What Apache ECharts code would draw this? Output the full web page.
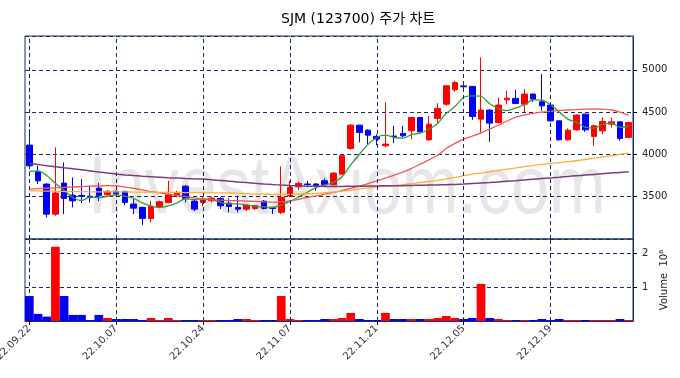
<!DOCTYPE html>
<html>
<head>
<meta charset="utf-8">
<script src="https://cdn.jsdelivr.net/npm/echarts@6/dist/echarts.min.js"></script>
<style>
  html, body { margin: 0; padding: 0; background: #fff; }
  #chart { width: 680px; height: 378px; }
</style>
</head>
<body>
<div id="chart"></div>
<script>
const dates = [
  "22.09.22", "22.09.23", "22.09.26", "22.09.27", "22.09.28", "22.09.29", "22.09.30", "22.10.04", "22.10.05", "22.10.06",
  "22.10.07", "22.10.11", "22.10.12", "22.10.13", "22.10.14", "22.10.17", "22.10.18", "22.10.19", "22.10.20", "22.10.21",
  "22.10.24", "22.10.25", "22.10.26", "22.10.27", "22.10.28", "22.10.31", "22.11.01", "22.11.02", "22.11.03", "22.11.04",
  "22.11.07", "22.11.08", "22.11.09", "22.11.10", "22.11.11", "22.11.14", "22.11.15", "22.11.16", "22.11.17", "22.11.18",
  "22.11.21", "22.11.22", "22.11.23", "22.11.24", "22.11.25", "22.11.28", "22.11.29", "22.11.30", "22.12.01", "22.12.02",
  "22.12.05", "22.12.06", "22.12.07", "22.12.08", "22.12.09", "22.12.12", "22.12.13", "22.12.14", "22.12.15", "22.12.16",
  "22.12.19", "22.12.20", "22.12.21", "22.12.22", "22.12.23", "22.12.26", "22.12.27", "22.12.28", "22.12.29", "22.12.30",
];

const opens = [
  4110, 3794, 3649, 3294, 3661, 3519, 3515, 3505, 3601, 3522,
  3563, 3563, 3413, 3374, 3243, 3385, 3433, 3511, 3625, 3448,
  3433, 3452, 3480, 3424, 3374, 3353, 3360, 3448, 3374, 3315,
  3511, 3617, 3650, 3650, 3688, 3641, 3767, 4071, 4346, 4287,
  4213, 4102, 4218, 4248, 4279, 4437, 4173, 4425, 4594, 4764,
  4810, 4804, 4417, 4524, 4378, 4645, 4662, 4594, 4713, 4622,
  4583, 4397, 4173, 4291, 4476, 4213, 4279, 4358, 4385, 4201,
];
const closes = [
  3865, 3688, 3294, 3543, 3480, 3452, 3505, 3490, 3511, 3563,
  3535, 3433, 3365, 3243, 3385, 3440, 3522, 3551, 3480, 3353,
  3460, 3483, 3393, 3385, 3353, 3400, 3395, 3362, 3362, 3492,
  3610, 3657, 3645, 3630, 3641, 3779, 3984, 4346, 4260, 4228,
  4181, 4122, 4210, 4220, 4437, 4267, 4358, 4544, 4811, 4851,
  4800, 4449, 4524, 4370, 4583, 4665, 4603, 4713, 4654, 4574,
  4397, 4173, 4287, 4465, 4291, 4338, 4390, 4385, 4189, 4378,
];
const lows = [
  3826, 3649, 3255, 3274, 3294, 3374, 3424, 3432, 3448, 3510,
  3525, 3400, 3294, 3164, 3196, 3365, 3420, 3495, 3433, 3330,
  3385, 3430, 3353, 3315, 3315, 3330, 3340, 3350, 3294, 3294,
  3492, 3582, 3610, 3570, 3630, 3630, 3760, 4054, 4142, 4120,
  4110, 4083, 4134, 4201, 4180, 4260, 4161, 4358, 4575, 4740,
  4752, 4409, 4260, 4149, 4370, 4594, 4594, 4496, 4622, 4515,
  4385, 4161, 4161, 4279, 4267, 4102, 4240, 4319, 4161, 4193,
];
const highs = [
  4299, 3865, 3660, 4083, 3905, 3728, 3708, 3629, 3664, 3580,
  3575, 3570, 3472, 3380, 3452, 3452, 3688, 3570, 3640, 3470,
  3495, 3500, 3495, 3480, 3511, 3410, 3405, 3460, 3374, 3858,
  3688, 3680, 3688, 3660, 3716, 3790, 3996, 4358, 4350, 4299,
  4240, 4615, 4338, 4338, 4440, 4440, 4456, 4606, 4820, 4870,
  4850, 4810, 5147, 4535, 4674, 4752, 4764, 4772, 4720, 4950,
  4594, 4400, 4307, 4476, 4480, 4350, 4437, 4437, 4390, 4385,
];
const volumes = [
  740000, 210000, 130000, 2200000, 740000, 180000, 180000, 30000, 180000, 90000,
  60000, 60000, 60000, 30000, 90000, 30000, 90000, 30000, 30000, 30000,
  30000, 30000, 30000, 30000, 60000, 60000, 30000, 30000, 30000, 740000,
  60000, 30000, 30000, 30000, 60000, 60000, 90000, 240000, 60000, 30000,
  30000, 240000, 60000, 60000, 60000, 60000, 60000, 90000, 150000, 90000,
  60000, 90000, 1100000, 90000, 60000, 30000, 30000, 30000, 30000, 60000,
  30000, 60000, 30000, 30000, 30000, 30000, 30000, 30000, 60000, 30000,
];

// moving averages
const ma5 = [
  3799, 3806, 3750, 3660, 3574, 3491, 3455, 3494, 3488, 3504,
  3521, 3506, 3481, 3428, 3392, 3373, 3391, 3428, 3476, 3469,
  3473, 3465, 3434, 3415, 3415, 3403, 3385, 3379, 3374, 3402,
  3444, 3497, 3553, 3607, 3637, 3670, 3736, 3876, 4002, 4119,
  4200, 4227, 4200, 4192, 4234, 4251, 4298, 4365, 4483, 4566,
  4673, 4691, 4687, 4599, 4545, 4518, 4549, 4587, 4644, 4642,
  4588, 4502, 4417, 4379, 4323, 4311, 4354, 4374, 4319, 4336,
];
const ma20 = [
  3590, 3595, 3600, 3605, 3610, 3615, 3620, 3625, 3628, 3630,
  3628, 3615, 3600, 3580, 3560, 3545, 3530, 3515, 3500, 3485,
  3472, 3465, 3460, 3455, 3452, 3448, 3445, 3440, 3437, 3440,
  3450, 3470, 3490, 3510, 3530, 3550, 3575, 3600, 3625, 3655,
  3688, 3720, 3755, 3790, 3835, 3885, 3935, 3990, 4070, 4130,
  4180, 4215, 4255, 4300, 4345, 4395, 4440, 4465, 4485, 4500,
  4510, 4520, 4525, 4530, 4535, 4537, 4535, 4525, 4500, 4465,
];
const ma60 = [
  3570, 3568, 3566, 3564, 3562, 3560, 3560, 3558, 3558, 3557,
  3557, 3556, 3555, 3554, 3553, 3552, 3551, 3550, 3549, 3548,
  3547, 3546, 3545, 3544, 3540, 3536, 3532, 3530, 3528, 3527,
  3527, 3530, 3535, 3540, 3547, 3555, 3565, 3578, 3592, 3605,
  3615, 3622, 3630, 3642, 3655, 3668, 3680, 3693, 3710, 3728,
  3748, 3767, 3780, 3795, 3810, 3826, 3840, 3855, 3868, 3882,
  3892, 3903, 3914, 3925, 3940, 3955, 3970, 3984, 4000, 4016,
];
const ma120 = [
  3894, 3880, 3867, 3855, 3842, 3830, 3818, 3805, 3792, 3780,
  3768, 3758, 3750, 3743, 3737, 3731, 3725, 3720, 3715, 3711,
  3708, 3700, 3692, 3684, 3675, 3667, 3658, 3650, 3643, 3637,
  3632, 3628, 3625, 3623, 3622, 3622, 3622, 3623, 3624, 3626,
  3628, 3629, 3630, 3631, 3633, 3635, 3637, 3639, 3642, 3645,
  3650, 3656, 3662, 3668, 3675, 3683, 3690, 3698, 3706, 3714,
  3722, 3730, 3740, 3748, 3756, 3764, 3772, 3780, 3787, 3794,
];

const priceTicks = [3500, 4000, 4500, 5000];
const volumeTicks = [1000000, 2000000];

const UP = "#ff0000";
const DOWN = "#0000ff";
const NAVY = "#1a2b6d";
const FONT = "DejaVu Sans";

const candles = opens.map((o, i) => [o, closes[i], lows[i], highs[i]]);
const volumeBars = volumes.map((v, i) => ({
  value: v,
  itemStyle: { color: closes[i] >= opens[i] ? UP : DOWN },
}));

// vertical dashed lines through every 10th session
const dateLines = dates
  .filter((d, i) => i % 10 === 0)
  .map((d) => ({ xAxis: d }));

function vLines() {
  return {
    silent: true,
    symbol: "none",
    label: { show: false },
    lineStyle: { color: NAVY, type: [4, 3], width: 1 },
    data: dateLines,
  };
}

function maLine(name, data, color, width) {
  return {
    name: name,
    type: "line",
    xAxisIndex: 0,
    yAxisIndex: 0,
    data: data,
    smooth: 0.3,
    symbol: "none",
    lineStyle: { color: color, width: width },
    z: 3,
  };
}

const myChart = echarts.init(document.getElementById("chart"), null, {
  renderer: "canvas",
});

const option = {
  backgroundColor: "#fff",
  animation: false,
  title: {
    text: "SJM (123700) 주가 차트",
    left: 276,
    top: 7,
    textStyle: {
      fontFamily: "DejaVu Sans, Noto Sans CJK KR",
      fontSize: 14,
      fontWeight: "normal",
      color: "#000",
    },
  },
  graphic: [
    {
      type: "text",
      left: 88,
      top: 150,
      z: 0,
      scaleY: 1.2,
      style: {
        text: "InvestAxiom.com",
        font: '68px "Liberation Sans"',
        fill: "#e6e6e6",
      },
    },
  ],
  grid: [
    {
      left: 25, right: 47, top: 36, height: 203,
      outerBoundsMode: "none",
      show: true, borderColor: NAVY, borderWidth: 1,
    },
    {
      left: 25, right: 47, top: 239, height: 82,
      outerBoundsMode: "none",
      show: true, borderColor: NAVY, borderWidth: 1,
    },
  ],
  xAxis: [
    {
      type: "category",
      gridIndex: 0,
      data: dates,
      boundaryGap: true,
      axisLine: { show: false },
      axisTick: { show: false },
      axisLabel: { show: false },
      splitLine: { show: false },
    },
    {
      type: "category",
      gridIndex: 1,
      data: dates,
      boundaryGap: true,
      axisLine: { show: true, lineStyle: { color: NAVY } },
      axisTick: { show: true, alignWithLabel: true, interval: 9, length: 4, lineStyle: { color: "#000" } },
      axisLabel: {
        interval: 9,
        rotate: 45,
        fontFamily: FONT,
        fontSize: 10,
        color: "#333",
        margin: 6,
      },
      splitLine: { show: false },
    },
  ],
  yAxis: [
    {
      type: "value",
      gridIndex: 0,
      position: "right",
      min: 3000,
      max: 5400,
      interval: 500,
      axisLine: { show: true, lineStyle: { color: NAVY } },
      axisTick: { show: true, length: 4, lineStyle: { color: "#000" } },
      axisLabel: {
        showMinLabel: false,
        showMaxLabel: false,
        fontFamily: FONT,
        fontSize: 10,
        color: "#222",
        margin: 9,
        formatter: (v) => (priceTicks.includes(v) ? String(v) : ""),
      },
      splitLine: { show: true, lineStyle: { color: NAVY, type: [4, 3] } },
    },
    {
      type: "value",
      gridIndex: 1,
      position: "right",
      min: 0,
      max: 2430000,
      interval: 1000000,
      name: "Volume  10⁶",
      nameLocation: "middle",
      nameRotate: 90,
      nameGap: 26,
      nameTextStyle: { fontFamily: FONT, fontSize: 10, color: "#222" },
      axisLine: { show: true, lineStyle: { color: NAVY } },
      axisTick: { show: true, length: 4, lineStyle: { color: "#000" } },
      axisLabel: {
        showMinLabel: false,
        showMaxLabel: false,
        fontFamily: FONT,
        fontSize: 10,
        color: "#222",
        margin: 9,
        formatter: (v) => (volumeTicks.includes(v) ? String(v / 1000000) : ""),
      },
      splitLine: { show: true, lineStyle: { color: NAVY, type: [4, 3] } },
    },
  ],
  series: [
    {
      name: "candle",
      type: "candlestick",
      xAxisIndex: 0,
      yAxisIndex: 0,
      data: candles,
      barWidth: "70%",
      itemStyle: {
        color: UP,
        color0: DOWN,
        borderColor: UP,
        borderColor0: DOWN,
        borderWidth: 1,
      },
      markLine: vLines(),
    },
    maLine("MA5", ma5, "#3a9a3a", 1.3),
    maLine("MA20", ma20, "#f25757", 1.3),
    maLine("MA60", ma60, "#ffad33", 1.3),
    maLine("MA120", ma120, "#7a3f78", 1.5),
    {
      name: "Volume",
      type: "bar",
      xAxisIndex: 1,
      yAxisIndex: 1,
      data: volumeBars,
      barWidth: "100%",
      markLine: vLines(),
    },
  ],
};

myChart.setOption(option);
</script>
</body>
</html>
